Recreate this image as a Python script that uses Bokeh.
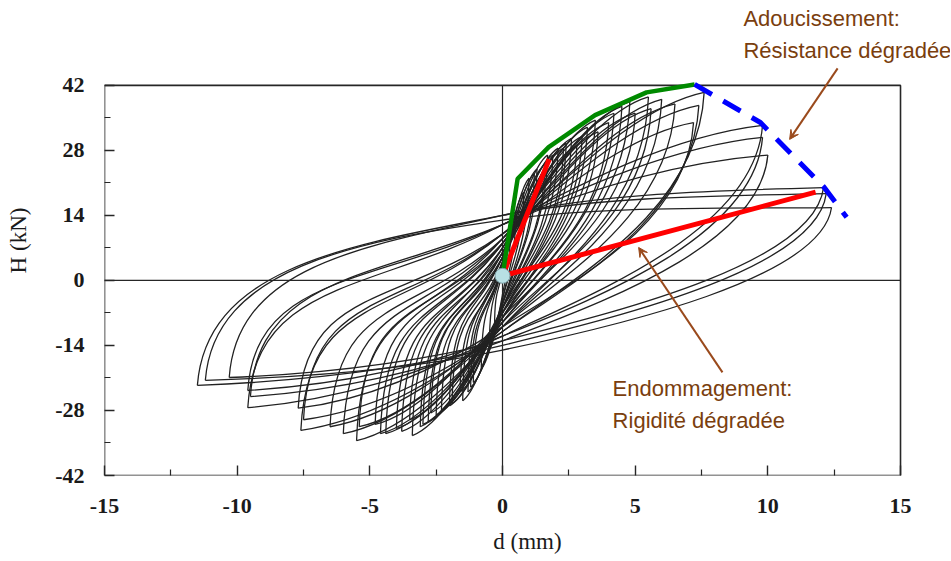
import numpy as np
from bokeh.plotting import figure
from bokeh.models import FixedTicker, Label, Arrow, VeeHead, Range1d
from bokeh.embed import file_html
from bokeh.resources import INLINE

# ---- data -----------------------------------------------------------------
# cycle peaks (positive and negative) and the force where branches cross d = 0
pos_d = [0.3, 0.5, 0.8, 1.0, 1.2, 1.3, 1.7, 1.6, 1.9, 2.1, 2.3, 2.4, 2.6, 2.8, 3.0, 3.2,
         3.5, 3.6, 4.0, 4.2, 4.5, 4.8, 5.0, 5.5, 5.6, 6.0, 6.5, 7.6, 7.4, 7.2,
         9.8, 9.8, 10.0, 12.1, 12.2, 12.4]
pos_h = [10, 14, 19, 22, 23, 24, 27, 25, 27, 28.5, 28.5, 29.5, 30.6, 29, 31, 33,
         34.5, 32, 34, 36, 37.5, 38.5, 36, 39.5, 37, 39, 38, 40.5, 37.7, 34,
         33.4, 30.8, 27, 20.0, 18.7, 15.7]
neg_d = [-0.3, -0.5, -0.8, -1.1, -1.2, -1.3, -1.5, -1.6, -1.9, -2.0, -2.3, -2.5, -2.8, -2.7,
         -3.0, -3.1, -3.4, -3.5, -3.8, -4.0, -4.4, -4.6, -4.8, -5.5, -5.4, -6.0, -6.5, -7.6,
         -7.5, -7.7, -9.6, -9.6, -9.5, -10.3, -11.5, -11.2]
neg_h = [-10, -15, -19, -22, -23, -24, -25.9, -24, -26.5, -27, -28, -29, -30.5, -28.5,
         -31, -31.5, -33.4, -30, -32.5, -31.9, -33, -33, -31, -34.5, -31.5, -33, -31.5, -32.3,
         -30, -27.5, -27.4, -23.7, -25, -20.9, -22.6, -21.5]
up_h = [2, 3, 3, 3, 3, 4, 4, 3, 4, 5, 5, 5, 6, 5, 6, 6, 7, 6, 7, 7, 8, 8, 8, 9, 8, 9, 9,
        10, 10, 10, 12, 12, 12, 14, 14, 13]
dn_h = [-3, -4, -4, -5, -5, -5, -6, -5, -6, -6, -6, -7, -7, -6, -7, -8, -8, -7, -8, -8,
        -9, -9, -8, -10, -9, -10, -10, -11, -11, -10, -12, -12, -13, -13, -14, -15]

envelope_d = [0.0, 0.57, 1.74, 3.49, 5.43, 7.24]
envelope_h = [1.0, 21.9, 28.7, 35.6, 40.5, 42.2]
soften_d = [7.24, 9.72, 12.1, 12.97]
soften_h = [42.2, 34.0, 20.2, 13.6]
stiff_a_d = [0.0, 1.76]
stiff_a_h = [1.0, 26.1]
stiff_b_d = [0.0, 11.8]
stiff_b_h = [1.0, 19.0]
origin_d = [0.0]
origin_h = [1.0]

x_ticks = [-15, -10, -5, 0, 5, 10, 15]
x_minor = [-12.5, -7.5, -2.5, 2.5, 7.5, 12.5]
y_ticks = [-42, -28, -14, 0, 14, 28, 42]
y_minor = [-35, -21, -7, 7, 21, 35]

label_top = ["Adoucissement:", "Résistance dégradée"]
label_bot = ["Endommagement:", "Rigidité dégradée"]

# ---- figure -----------------------------------------------------------------
# frame is extended to the right and above the box so the notes can sit there
p = figure(width=950, height=561, output_backend="svg", toolbar_location=None,
           x_range=Range1d(-15, 16.884), y_range=Range1d(-42, 59.2),
           min_border_left=104, min_border_right=0, min_border_top=5, min_border_bottom=86)
p.background_fill_color = "white"
p.border_fill_color = "white"
p.outline_line_color = None
p.grid.visible = False

ink = "#262626"
for ax, maj, mn in ((p.xaxis[0], x_ticks, x_minor), (p.yaxis[0], y_ticks, y_minor)):
    ax.ticker = FixedTicker(ticks=maj, minor_ticks=mn)
    ax.major_label_overrides = {t: str(t) for t in maj}
    ax.major_tick_in = 10
    ax.major_tick_out = 0
    ax.minor_tick_in = 6
    ax.minor_tick_out = 0
    ax.axis_line_color = None
    ax.major_tick_line_color = ink
    ax.minor_tick_line_color = ink
    ax.major_tick_line_width = 1.4
    ax.minor_tick_line_width = 1.2
    ax.major_label_text_font = "Liberation Serif"
    ax.major_label_text_font_size = "22px"
    ax.major_label_text_font_style = "bold"
    ax.major_label_text_color = "#1a1a1a"
    ax.axis_label_text_font = "Liberation Serif"
    ax.axis_label_text_font_size = "23px"
    ax.axis_label_text_font_style = "normal"
    ax.axis_label_text_color = "#1a1a1a"
p.xaxis.major_label_standoff = 23
p.yaxis.major_label_standoff = 20
p.xaxis.axis_label = "d (mm)"
p.yaxis.axis_label = "H (kN)"
p.xaxis.axis_label_standoff = 13
p.yaxis.axis_label_standoff = 21

# plot box and the zero lines
p.quad(left=x_ticks[0], right=x_ticks[-1], bottom=y_ticks[0], top=y_ticks[-1],
       fill_color=None, line_color=ink, line_width=1.6)
p.segment(x0=[0], y0=[y_ticks[0]], x1=[0], y1=[y_ticks[-1]], line_color=ink, line_width=1.2)
p.segment(x0=[x_ticks[0]], y0=[0], x1=[x_ticks[-1]], y1=[0], line_color=ink, line_width=1.2)

# ---- hysteresis loops as cubic Bezier branches ------------------------------
a = np.array(pos_d, float)
hp = np.array(pos_h, float)
b = -np.array(neg_d, float)
hn = np.array(neg_h, float)
u = np.array(up_h, float)
dd = np.array(dn_h, float)

chr_u = (hp - u) / a
chl_u = (u - hn) / b
s_u = np.sqrt(chr_u * chl_u)
chr_d = (hp - dd) / a
chl_d = (dd - hn) / b
s_d = np.sqrt(chr_d * chl_d)
z = np.zeros_like(a)

# loading towards the positive peak
x0 = [z]; y0 = [u]; x1 = [a]; y1 = [hp]
cx0 = [0.3 * a]; cy0 = [u + 0.3 * a * s_u]
cx1 = [a - 0.35 * a]; cy1 = [hp - 0.35 * a * 0.3 * chr_u]
# unloading from the positive peak
x0.append(a); y0.append(hp); x1.append(z); y1.append(dd)
cx0.append(a - 0.03 * a); cy0.append(hp - 0.5 * (hp - dd))
cx1.append(0.35 * a); cy1.append(dd + 0.35 * a * s_d)
# loading towards the negative peak
x0.append(z); y0.append(dd); x1.append(-b); y1.append(hn)
cx0.append(-0.3 * b); cy0.append(dd - 0.3 * b * s_d)
cx1.append(-b + 0.35 * b); cy1.append(hn + 0.35 * b * 0.3 * chl_d)
# unloading from the negative peak
x0.append(-b); y0.append(hn); x1.append(z); y1.append(u)
cx0.append(-b + 0.03 * b); cy0.append(hn + 0.7 * (u - hn))
cx1.append(-0.5 * b); cy1.append(u - 0.5 * b * s_u)

cat = np.concatenate
p.bezier(x0=cat(x0), y0=cat(y0), x1=cat(x1), y1=cat(y1),
         cx0=cat(cx0), cy0=cat(cy0), cx1=cat(cx1), cy1=cat(cy1),
         line_color="#222222", line_width=1.3)

# ---- overlays ---------------------------------------------------------------
p.line(stiff_a_d, stiff_a_h, line_color="#FF0000", line_width=5)
p.line(stiff_b_d, stiff_b_h, line_color="#FF0000", line_width=5)
p.line(envelope_d, envelope_h, line_color="#008A00", line_width=4.5)
p.line(soften_d, soften_h, line_color="#0000FF", line_width=5, line_dash="20 13")
p.scatter(origin_d, origin_h, size=15, fill_color="#B8E0E4", line_color="#7A9CA2",
          line_width=1, level="overlay")

brown_t = "#7A3E0E"
brown_a = "#9A4A1C"
p.add_layout(Arrow(end=VeeHead(size=9, fill_color=brown_a, line_color=brown_a),
                   x_start=12.63, y_start=45.66, x_end=10.82, y_end=30.37,
                   line_color=brown_a, line_width=2))
p.add_layout(Arrow(end=VeeHead(size=9, fill_color=brown_a, line_color=brown_a),
                   x_start=8.29, y_start=-19.8, x_end=5.13, y_end=7.1,
                   line_color=brown_a, line_width=2))

for txt, yy in zip(label_top, [56.4, 49.5]):
    p.add_layout(Label(x=9.08, y=yy, text=txt, text_font="Liberation Sans",
                       text_font_size="22px", text_color=brown_t, text_baseline="alphabetic"))
for txt, yy in zip(label_bot, [-23.3, -30.2]):
    p.add_layout(Label(x=4.15, y=yy, text=txt, text_font="Liberation Sans",
                       text_font_size="22px", text_color=brown_t, text_baseline="alphabetic"))

open("out.html", "w").write(file_html(p, INLINE))
